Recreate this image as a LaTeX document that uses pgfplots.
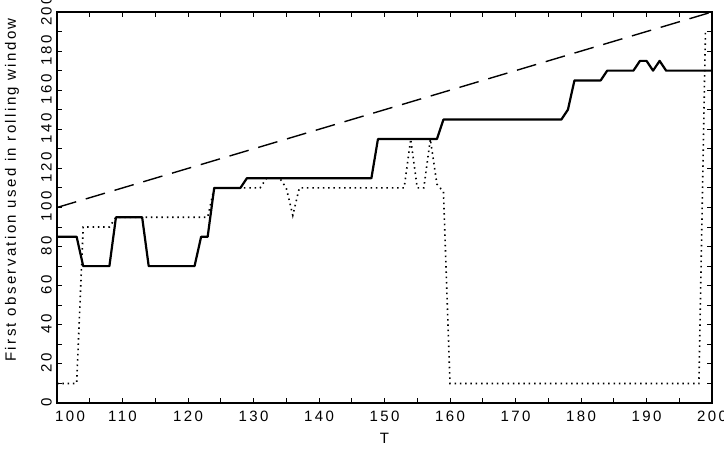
\documentclass[border=0pt]{standalone}
\usepackage{fontspec}
\setmainfont{Liberation Sans}[LetterSpace=16]
\usepackage{pgfplots}
\pgfplotsset{compat=1.18}
\begin{document}
\fontsize{15bp}{17bp}\selectfont
\begin{tikzpicture}
\useasboundingbox (-57bp,-47bp) rectangle (667bp,403bp);
\begin{axis}[
  scale only axis, width=655bp, height=391bp,
  at={(0,0)}, anchor=south west,
  xmin=100, xmax=200, ymin=0, ymax=200,
  xtick={110,120,...,200},
  extra x ticks={100},
  extra x tick style={xticklabel style={xshift=13bp}},
  minor xtick={105,115,...,195},
  ytick={0,20,...,200},
  minor ytick={10,30,...,190},
  tick align=inside,
  major tick length=5bp, minor tick length=5bp,
  tick style={black, line width=0.9bp},
  axis line style={line width=1.8bp},
  /pgf/number format/assume math mode=true,
  xticklabel style={yshift=-3bp},
  yticklabel style={rotate=90, anchor=south, xshift=1bp},
  xlabel={T},
  ylabel={First observation used in rolling window},
  xlabel style={at={(axis description cs:0.5,-0.0895)}, anchor=center},
  ylabel style={at={(axis description cs:-0.0687,0.545)}, anchor=center},
]
\addplot[black, line width=1.4bp, dash pattern=on 20bp off 10bp] coordinates {(100,100) (200,200)};
\addplot[black, line width=1.6bp, dash pattern=on 1.5bp off 3.8bp] coordinates {
(100,10) (103,10) (104,90) (108,90) (109,95) (123,95) (124,110) (131,110) (132,115) (134,115) (135,110) (136,96) (137,110) (153,110) (154,135) (155,110) (156,110) (157,135) (158,112) (159,108) (160,10) (198,10) (199,190)};
\addplot[black, line width=2.2bp, line join=round] coordinates {
(100,85) (103,85) (104,70) (108,70) (109,95) (113,95) (114,70) (121,70) (122,85) (123,85) (124,110) (128,110) (129,115) (148,115) (149,135) (158,135) (159,145) (177,145) (178,150) (179,165) (183,165) (184,170) (188,170) (189,175) (190,175) (191,170) (192,175) (193,170) (200,170)};
\end{axis}
\end{tikzpicture}
\end{document}
